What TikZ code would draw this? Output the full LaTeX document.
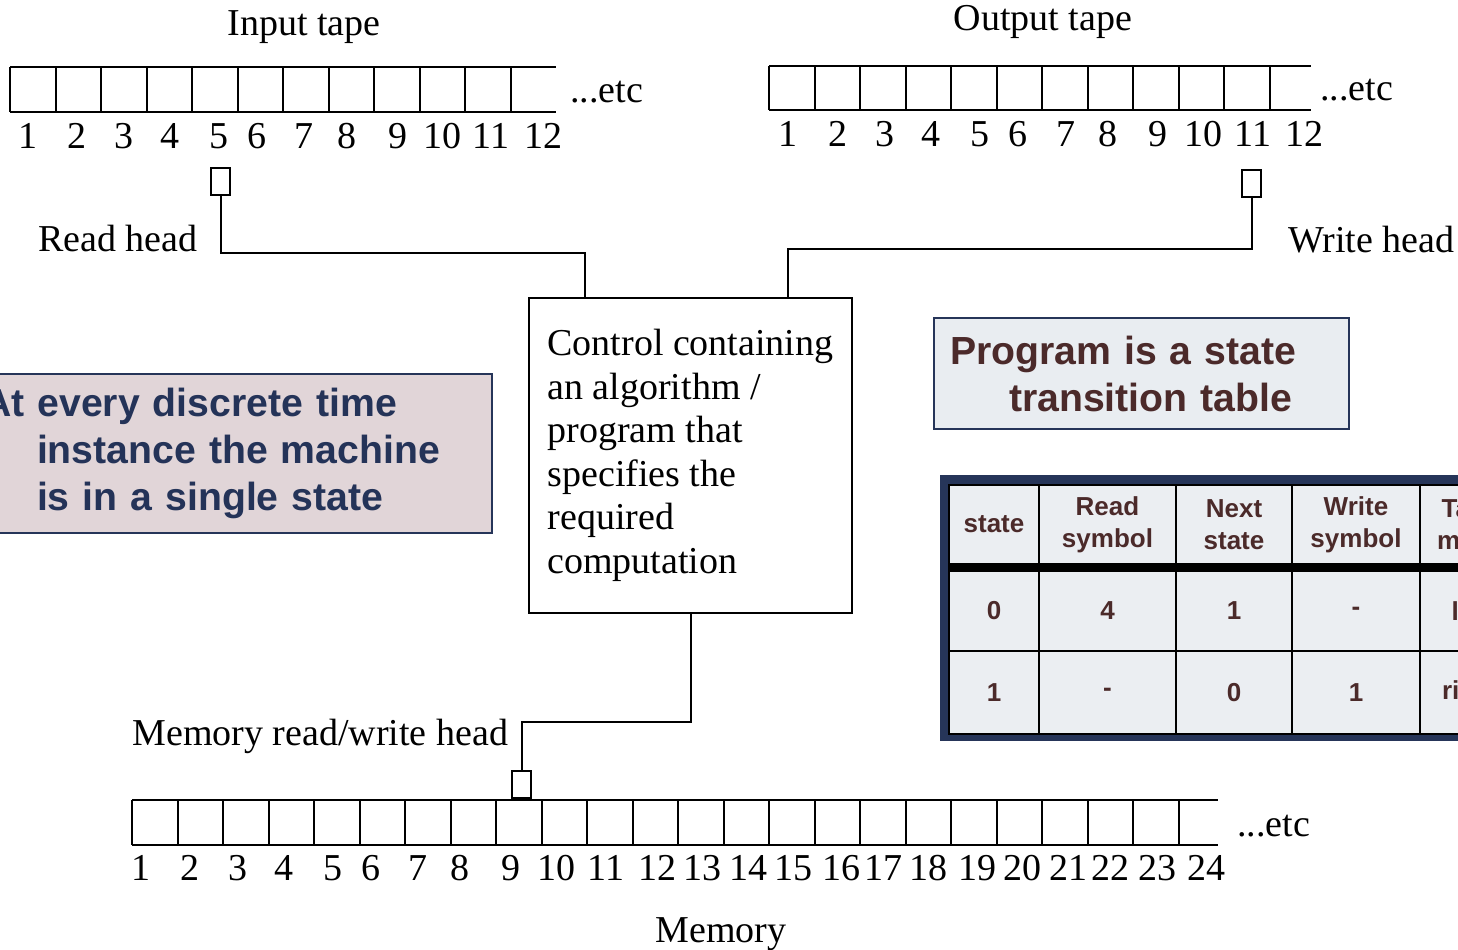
\documentclass[tikz,border=0pt]{standalone}
\usepackage{fontspec}
\setmainfont{Liberation Serif}
\setsansfont{Liberation Sans}
\usepackage{tikz}
\definecolor{navy}{HTML}{263559}
\definecolor{notepink}{HTML}{E1D5D8}
\definecolor{notetext}{HTML}{243358}
\definecolor{progfill}{HTML}{E9EDF1}
\definecolor{brownred}{HTML}{4B2A2A}
\definecolor{cellfill}{HTML}{EBEEF2}

\begin{document}
\begin{tikzpicture}[x=0.5pt, y=-0.5pt,
  wire/.style={line width=1pt},
  lbl/.style={font=\fontsize{19}{21.75}\selectfont, inner sep=0pt},
  num/.style={lbl, anchor=base},
  head/.style={draw, line width=1pt, fill=white,
    minimum width=9.5pt, minimum height=13.5pt, inner sep=0pt},
  cell/.style={draw=black, line width=1pt, fill=cellfill, text=brownred,
    anchor=north west, inner sep=0pt, align=center,
    font=\sffamily\bfseries\fontsize{13}{16}\selectfont}]
  \useasboundingbox (0,0) rectangle (1458,949);
  \clip (0,0) rectangle (1458,949);

  % input tape
  \node[lbl, anchor=base] (intitle) at (304,35) {Input tape};
  \draw[wire] (10,67) -- (556,67) (10,112) -- (556,112);
  \foreach \i in {0,...,11}
    \draw[wire] ({10+\i*45.5},67) -- ({10+\i*45.5},112);
  \foreach \n/\x in {1/28,2/77,3/124,4/170,5/219,6/257,7/304,8/347,9/398,10/442,11/491,12/543}
    \node[num] (in\n) at (\x,148) {\n};
  \node[lbl, anchor=base west] (inetc) at (570,102) {...etc};

  % output tape
  \node[lbl, anchor=base] (outtitle) at (1043,30) {Output tape};
  \draw[wire] (769,66) -- (1311,66) (769,110) -- (1311,110);
  \foreach \i in {0,...,11}
    \draw[wire] ({769+\i*45.5},66) -- ({769+\i*45.5},110);
  \foreach \n/\x in {1/788,2/838,3/885,4/931,5/980,6/1018,7/1066,8/1108,9/1158,10/1203,11/1253,12/1304}
    \node[num] (out\n) at (\x,146) {\n};
  \node[lbl, anchor=base west] (outetc) at (1320,100) {...etc};

  % heads
  \node[head] (rh) at (220.5,181.5) {};
  \node[lbl, anchor=base east] (rhlabel) at (198,251) {Read head};
  \node[head] (wh) at (1251.5,183) {};
  \node[lbl, anchor=base west] (whlabel) at (1288,252) {Write head};

  % control
  \node[draw, line width=1pt, minimum width=161.5pt, minimum height=157.5pt,
    align=left, font=\fontsize{19}{21.75}\selectfont] (ctrl) at (690.5,455.5)
    {Control containing\\an algorithm /\\program that\\specifies the\\required\\computation};
  \coordinate (rin) at (585,298);
  \coordinate (win) at (788,298);
  \draw[wire] (rh.south) -- ++(0,57) -| (rin);
  \draw[wire] (wh.south) -- ++(0,51) -| (win);

  % memory
  \node[head] (mh) at (521.5,784) {};
  \node[lbl, anchor=base west] (mhlabel) at (132,745) {Memory read/write head};
  \draw[wire] (ctrl.south) -- ++(0,108) -| (mh.north);
  \draw[wire] (132,800) -- (1218,800) (132,845) -- (1218,845);
  \foreach \i in {0,...,23}
    \draw[wire] ({132+\i*45.5},800) -- ({132+\i*45.5},845);
  \foreach \n/\x in {1/141,2/190,3/238,4/284,5/333,6/371,7/418,8/460,9/511,10/556,11/606,12/657,
      13/702,14/748,15/793,16/841,17/883,18/928,19/977,20/1022,21/1068,22/1110,23/1157,24/1206}
    \node[num] (mem\n) at (\x,880) {\n};
  \node[lbl, anchor=base west] (memetc) at (1237,836) {...etc};
  \node[lbl, anchor=base] (memtitle) at (721,942) {Memory};

  % notes
  \node[draw=navy, line width=0.8pt, fill=notepink, text=notetext,
    font=\sffamily\bfseries\fontsize{19.6}{23.5}\selectfont,
    align=left, text width=248pt, inner xsep=6.5pt, minimum height=79.5pt] (note) at (231,453.5)
    {At every discrete time\\\hspace*{27pt}instance the machine\\\hspace*{27pt}is in a single state};
  \node[draw=navy, line width=0.8pt, fill=progfill, text=brownred,
    font=\sffamily\bfseries\fontsize{19.6}{23.5}\selectfont,
    align=left, text width=191.5pt, inner xsep=8pt, minimum height=55.5pt] (prog) at (1141.5,373.5)
    {Program is a state\\\hspace*{29.5pt}transition table};

  % transition table
  \fill[navy] (940,475) rectangle (1540,741);
  \foreach \c/\x/\w/\hd/\ra/\rb in {1/948/90/state/0/1, 2/1038/137/{Read\\symbol}/4/-,
      3/1175/116/{Next\\state}/1/0, 4/1291/128/{Write\\symbol}/-/1, 5/1419/102/{Tape\\move}/left/right} {
    \node[cell, minimum width=\w*0.5pt, minimum height=39.5pt] (h\c) at (\x,484) {\hd};
    \node[cell, minimum width=\w*0.5pt, minimum height=40pt] (a\c) at (\x,570) {\ra};
    \node[cell, minimum width=\w*0.5pt, minimum height=41.5pt] (b\c) at (\x,650) {\rb};
  }
  \fill[black] (948,563) rectangle (1540,570);
\end{tikzpicture}
\end{document}
